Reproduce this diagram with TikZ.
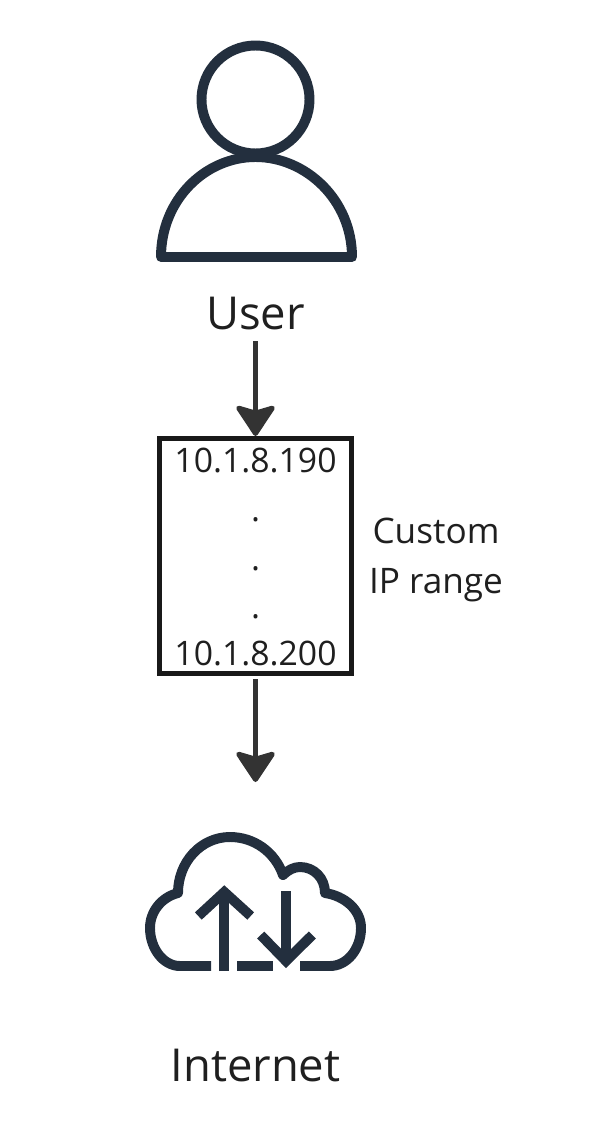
\documentclass[tikz,border=0pt]{standalone}
\usepackage{fontspec}
\setmainfont{Open Sans}
\usetikzlibrary{arrows.meta}

\definecolor{iconblue}{HTML}{232F3E}
\definecolor{arrowgrey}{HTML}{333333}
\definecolor{textgrey}{HTML}{1F1F1F}

\tikzset{
    icon/.style={draw=iconblue, line width=2.83pt, line join=round},
    bigtext/.style={font=\fontsize{12.9}{15}\selectfont, text=textgrey, inner sep=0pt, outer sep=0pt, anchor=base},
    smalltext/.style={font=\fontsize{9.6}{11}\selectfont, text=textgrey, inner sep=0pt, outer sep=0pt, anchor=base},
    sidetext/.style={font=\fontsize{10}{12}\selectfont, text=textgrey, inner sep=0pt, outer sep=0pt, anchor=base},
    flow/.style={draw=arrowgrey, line width=1.4pt, -{Stealth[length=9.6pt, width=12.6pt, inset=1.8pt, round]}},
}

\begin{document}
\begin{tikzpicture}[x=0.01cm, y=-0.01cm]
        \useasboundingbox (0,0) rectangle (612,1140);

        % user icon
        \draw[icon] (255.5,99.5) circle (54);
        \draw[icon] (161,257) .. controls (161,200) and (205,157) .. (255.5,157)
            .. controls (306,157) and (352,200) .. (352,257) -- cycle;
        \node[bigtext, inner ysep=3.1pt] (userlabel) at (255.5,330) {User};

        % address range
        \node[draw=black!90, line width=1.42pt, minimum width=1.92cm, minimum height=2.35cm, inner sep=0pt, outer sep=0.71pt] (range) at (255.5,556) {};
        \node[smalltext] (firstip) at (255.5,472) {10.1.8.190};
        \node[smalltext] (dotone) at (255.5,521) {.};
        \node[smalltext] (dottwo) at (255.5,570) {.};
        \node[smalltext] (dotthree) at (255.5,618) {.};
        \node[smalltext] (lastip) at (255.5,665) {10.1.8.200};
        \node[sidetext] (rangeone) at (436,543) {Custom};
        \node[sidetext] (rangetwo) at (436,593) {IP range};

        % internet icon
        \draw[icon] (211,966) -- (180,966) .. controls (163,966) and (150,948) .. (150,928)
            .. controls (150,911) and (162,897) .. (178,893)
            .. controls (178,862) and (201,837) .. (230,837)
            .. controls (254,837) and (275,852) .. (283,875)
            .. controls (288,870) and (294,867) .. (300,867)
            .. controls (314,867) and (325,878) .. (325,893)
            .. controls (345,896) and (361,910) .. (361,928)
            .. controls (361,949) and (347,966) .. (330,966) -- (300,966);
        \draw[icon] (237.3,966) -- (272.7,966);
        \draw[icon] (224.3,971) -- (224.3,892);
        \draw[icon, line join=miter] (198.3,916) -- (224.3,892) -- (250.7,916);
        \draw[icon] (286,891) -- (286,961);
        \draw[icon, line join=miter] (260.7,935) -- (286,961) -- (312.3,935);
        \coordinate (cloudtop) at (255.5,782);
        \node[bigtext] (internetlabel) at (255.5,1081) {Internet};

        \draw[flow] (userlabel) -- (range);
        \draw[flow, shorten <=0.85pt] (range) -- (cloudtop);
\end{tikzpicture}
\end{document}
